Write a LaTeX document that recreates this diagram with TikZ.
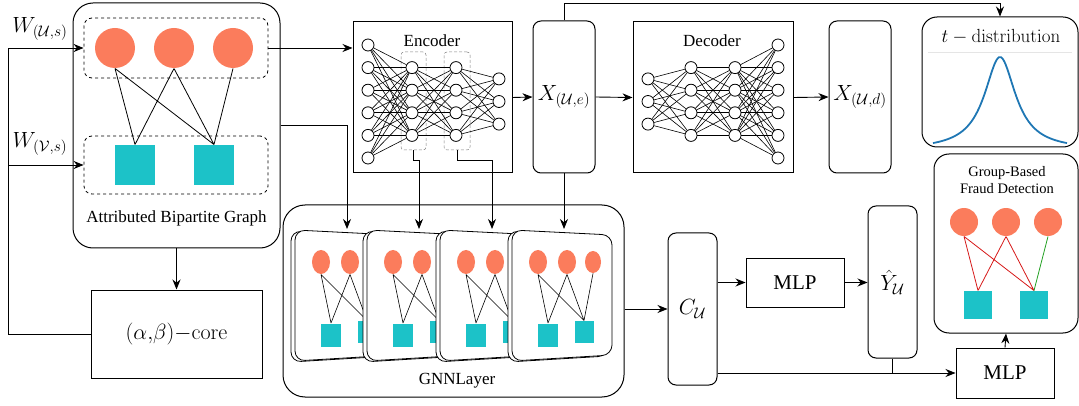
\RequirePackage{fix-cm}
\documentclass[tikz,border=0pt]{standalone}
\usepackage[no-math]{fontspec}
\setmainfont{Liberation Serif}
\usepackage{amssymb}
\usepackage{tikz}
\usetikzlibrary{
    arrows.meta,
    calc,
    positioning,
    shapes.geometric
}
\definecolor{unode}{RGB}{251,124,92}
\definecolor{vnode}{RGB}{28,194,200}
\definecolor{tblue}{RGB}{31,119,180}
\definecolor{fraudred}{RGB}{214,24,24}
\definecolor{fraudgreen}{RGB}{34,160,34}

\begin{document}
\begin{tikzpicture}[x=1pt, y=-1pt, line width=0.9pt,
    arr/.style={-{Stealth[length=10pt, width=8pt]}},
    block/.style={draw, line width=1pt, inner sep=0pt},
    rblock/.style={block, rounded corners=8pt},
    grp/.style={draw, dashed, line width=0.8pt, rounded corners=8pt, inner sep=0pt},
    lyr/.style={draw=gray, densely dashed, line width=0.5pt, rounded corners=3pt, inner sep=0pt},
    unit/.style={circle, fill=unode, inner sep=0pt, minimum size=#1},
    unit/.default=40pt,
    item/.style={rectangle, fill=vnode, inner sep=0pt, minimum size=#1},
    item/.default=40pt,
    neuron/.style={circle, draw, fill=white, line width=0.8pt, inner sep=0pt, minimum size=12pt},
    txt/.style={font=\fontsize{17}{20}\selectfont},
    mth/.style={font=\fontsize{22}{26}\selectfont}]
                                \useasboundingbox (0,0) rectangle (1079,406);
                                \node[rblock, rounded corners=20pt, minimum width=207pt, minimum height=245pt] (abg) at (176.5,125.5) {};
                                \node[grp, minimum width=184pt, minimum height=60pt] (uset) at (176,48) {};
                                \node[grp, minimum width=184pt, minimum height=58pt] (vset) at (176,165) {};
                                \node[unit] (u1) at (115,48) {};
                                \node[unit] (u2) at (174,48) {};
                                \node[unit] (u3) at (233,48) {};
                                \node[item] (v1) at (135,165) {};
                                \node[item] (v2) at (214,165) {};
                                \draw[line width=0.8pt]
                                (u1.south) -- (v1.north)
                                (u1.south) -- (v2.north)
                                (u2.south) -- (v1.north)
                                (u2.south) -- (v2.north)
                                (u3.south) -- (v2.north);
                                \node[txt] (abglabel) at (176.5,218) {Attributed Bipartite Graph};
                                \node[mth] (wu) at (40,29) {$W_{(\mathcal{U},s)}$};
                                \node[mth] (wv) at (40,144) {$W_{(\mathcal{V},s)}$};
                                \node[block, minimum width=171pt, minimum height=88pt, mth] (core) at (176.5,334) {$(\alpha,\!\beta)\mathord{-}\mathrm{core}$};

                                \node[block, minimum width=159pt, minimum height=151pt] (enc) at (432.5,97.5) {};
                                \node[txt] (enclabel) at (432,41) {Encoder};
                                \node[lyr, minimum width=25pt, minimum height=98pt] (g1) at (413.5,101) {};
                                \node[lyr, minimum width=26pt, minimum height=98pt] (g2) at (457,101) {};
                                \foreach \l/\px/\cnt in {1/368/6,2/412/4,3/456/4,4/499/3}
                                    \foreach \k in {1,...,\cnt}
                                        \node[neuron] (enc-\l-\k) at (\px, {101.5+(\k-(\cnt+1)/2)*22.6}) {};
                                \foreach \l/\na/\nb in {1/6/4,2/4/4,3/4/3} {
                                    \pgfmathtruncatemacro\nxt{\l+1}
                                    \foreach \a in {1,...,\na}
                                        \foreach \b in {1,...,\nb}
                                            \draw[line width=0.6pt] (enc-\l-\a) -- (enc-\nxt-\b);
                                }

                                \node[rblock, minimum width=62pt, minimum height=152pt, mth] (xe) at (564,97) {$X_{(\mathcal{U},e)}$};

                                \node[block, minimum width=160pt, minimum height=151pt] (dec) at (713,97.5) {};
                                \node[txt] (declabel) at (712,41) {Decoder};
                                \foreach \l/\px/\cnt in {1/648/3,2/691/4,3/735/4,4/778/6}
                                    \foreach \k in {1,...,\cnt}
                                        \node[neuron] (dec-\l-\k) at (\px, {101.5+(\k-(\cnt+1)/2)*22.6}) {};
                                \foreach \l/\na/\nb in {1/3/4,2/4/4,3/4/6} {
                                    \pgfmathtruncatemacro\nxt{\l+1}
                                    \foreach \a in {1,...,\na}
                                        \foreach \b in {1,...,\nb}
                                            \draw[line width=0.6pt] (dec-\l-\a) -- (dec-\nxt-\b);
                                }

                                \node[rblock, minimum width=62pt, minimum height=152pt, mth] (xd) at (860,97) {$X_{(\mathcal{U},d)}$};

                                \node[block, rounded corners=15pt, minimum width=156pt, minimum height=130pt] (tdist) at (1000,82) {};
                                \node[font=\fontsize{19}{21}\selectfont] (tlabel) at (1001,37) {$t-\mathrm{distribution}$};
                                \draw[gray!20, line width=0.6pt] (928,52) -- (1072,52);
                                \draw[tblue, line width=1.8pt, smooth] plot[domain=-67:67, samples=60] ({1000+\x}, {150-93/(1+\x*\x/361)});

                                \node[block, rounded corners=22pt, minimum width=341pt, minimum height=192pt] (gnn) at (453.5,301) {};
                                \node[txt] (gnnlabel) at (457,381) {GNNLayer};
                                \foreach \c/\px in {1/295,2/367,3/440,4/512} {
                                    \draw[fill=white, rounded corners=10pt, line width=0.8pt] (\px-4,231) -- (\px+96,236) -- (\px+96,356) -- (\px-4,362) -- cycle;
                                    \draw[fill=white, rounded corners=10pt, line width=0.8pt] (\px,230) -- (\px+100,235) -- (\px+100,355) -- (\px,361) -- cycle;
                                    \node[ellipse, fill=unode, inner sep=0pt, minimum width=18pt, minimum height=24pt] (c\c-u1) at (\px+26,262) {};
                                    \node[ellipse, fill=unode, inner sep=0pt, minimum width=18pt, minimum height=24pt] (c\c-u2) at (\px+55,262) {};
                                    \node[ellipse, fill=unode, inner sep=0pt, minimum width=16pt, minimum height=22pt] (c\c-u3) at (\px+81,262) {};
                                    \node[item, minimum width=20pt, minimum height=23pt] (c\c-v1) at (\px+36,335) {};
                                    \node[item, minimum width=19pt, minimum height=22pt] (c\c-v2) at (\px+72,332) {};
                                    \draw[line width=0.6pt]
                                    (c\c-u1.south) -- (c\c-v1.north)
                                    (c\c-u1.south) -- (c\c-v2.north)
                                    (c\c-u2.south) -- (c\c-v1.north)
                                    (c\c-u2.south) -- (c\c-v2.north)
                                    (c\c-u3.south) -- (c\c-v2.north);
                                    \coordinate (top\c) at (\px+52,229);
                                }

                                \node[rblock, minimum width=49pt, minimum height=152pt, mth] (cu) at (692.5,309) {$C_{\mathcal{U}}$};
                                \node[block, minimum width=98pt, minimum height=49pt, font=\fontsize{21}{24}\selectfont] (mlp1) at (795,282.5) {MLP};
                                \node[rblock, minimum width=49pt, minimum height=152pt, mth] (yhat) at (892.5,282) {$\hat{Y}_{\mathcal{U}}$};
                                \node[block, minimum width=98pt, minimum height=50pt, font=\fontsize{21}{24}\selectfont] (mlp2) at (1005,373) {MLP};

                                \node[block, rounded corners=15pt, minimum width=144pt, minimum height=179pt] (gbfd) at (1006,243.5) {};
                                \node[font=\fontsize{14.5}{17}\selectfont, align=center] (gbfdlabel) at (1007,180) {Group-Based\\Fraud Detection};
                                \node[unit=28pt] (f1) at (964,222) {};
                                \node[unit=28pt] (f2) at (1006,222) {};
                                \node[unit=28pt] (f3) at (1048,222) {};
                                \node[item=28pt] (s1) at (978,305) {};
                                \node[item=28pt] (s2) at (1034,305) {};
                                \draw[fraudred, line width=0.8pt]
                                (f1.south) -- (s1.north)
                                (f1.south) -- (s2.north)
                                (f2.south) -- (s1.north)
                                (f2.south) -- (s2.north);
                                \draw[fraudgreen, line width=0.8pt] (f3.south) -- (s2.north);

                                \coordinate (lft) at (8,48);
                                \coordinate (rail) at (1000,3);
                                \draw[arr] (core.west) -| (lft) -- (uset.west);
                                \draw[arr] (lft |- vset.west) -- (vset.west);
                                \draw[arr] (abg.south) -- (core.north);
                                \draw[arr] (uset.east) -- (enc.west |- uset.east);
                                \draw[arr] (abg.east) -| (top1);
                                \draw[arr] (g1.south) -- ++(0,10) -| (top2);
                                \draw[arr] (g2.south) -- ++(0,10) -| (top3);
                                \draw[arr] (enc.east) -- (xe.west);
                                \draw[arr] (xe.south) -- (top4);
                                \draw[arr] (xe.north) |- (rail) -- (tdist.north);
                                \draw[arr] (xe.east) -- (dec.west);
                                \draw[arr] (dec.east) -- (xd.west);
                                \draw[arr] (gnn.east |- cu.west) -- (cu.west);
                                \draw[arr] (cu.east |- mlp1.west) -- (mlp1.west);
                                \draw[arr] (mlp1.east) -- (yhat.west |- mlp1.east);
                                \draw[arr] (cu.east |- mlp2.west) -- (mlp2.west);
                                \draw (yhat.south) -- (yhat.south |- mlp2.west);
                                \draw[arr] (mlp2.north) -- (gbfd.south);
                            \end{tikzpicture}
\end{document}
